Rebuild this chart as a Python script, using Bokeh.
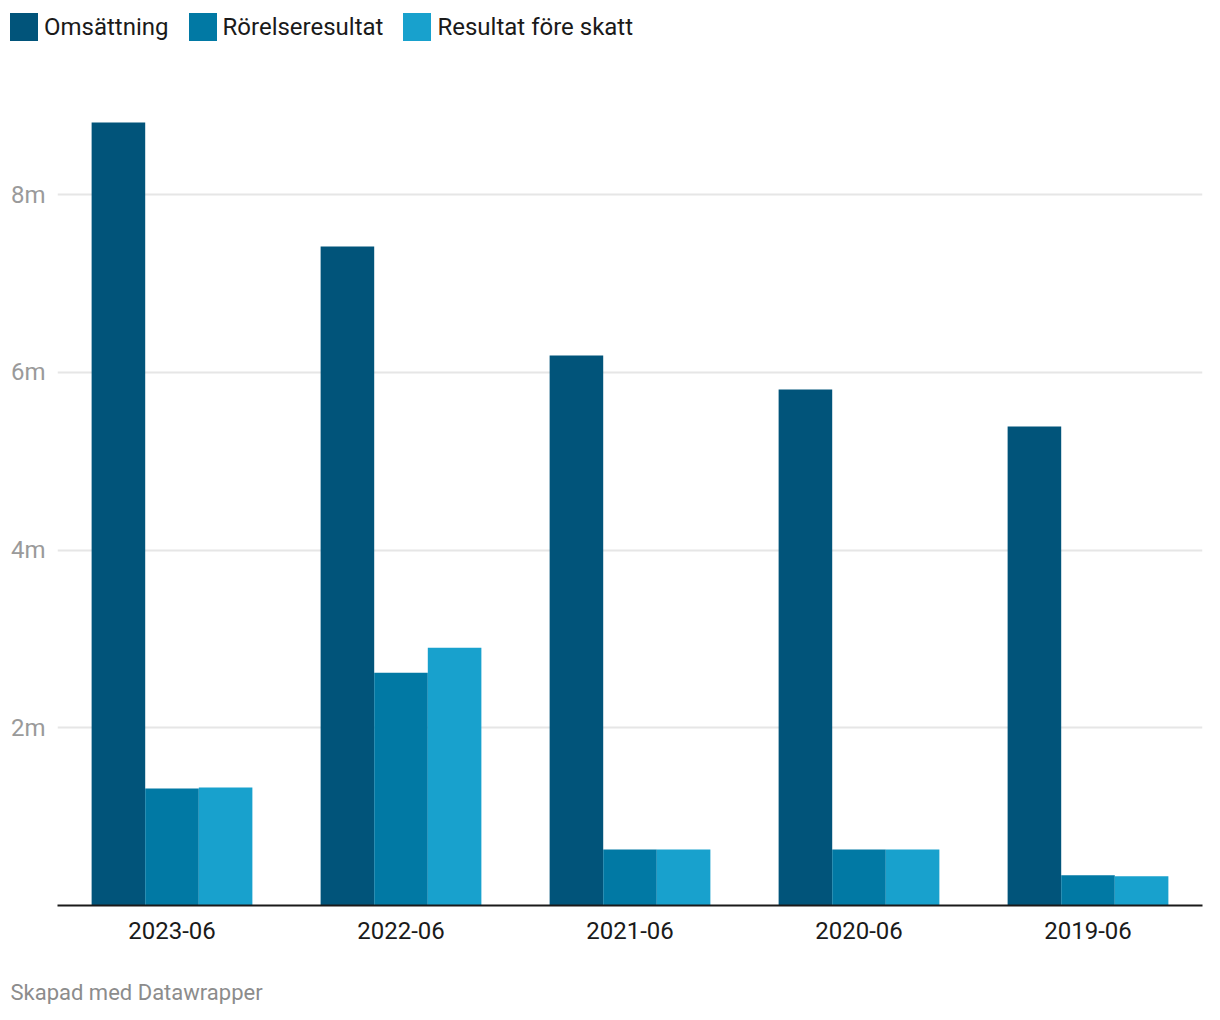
from bokeh.plotting import figure
from bokeh.models import (FactorRange, Range1d, FixedTicker, CustomJSTickFormatter,
                          Legend, LegendItem, Label, ColumnDataSource)
from bokeh.layouts import column
from bokeh.transform import dodge
from bokeh.embed import file_html
from bokeh.resources import INLINE

years = ["2023-06", "2022-06", "2021-06", "2020-06", "2019-06"]
omsattning = [8810000, 7415000, 6190000, 5806000, 5390000]
rorelseresultat = [1316000, 2620000, 630000, 630000, 340000]
resultat_fore_skatt = [1328000, 2900000, 630000, 630000, 330000]
series_names = ["Omsättning", "Rörelseresultat", "Resultat före skatt"]
colors = ["#01547a", "#0179a4", "#18a1cd"]
y_ticks = [2000000, 4000000, 6000000, 8000000]
footer_text = "Skapad med Datawrapper"

FONT = "Roboto"
W = 1204


def blank_fig(h):
    f = figure(width=W, height=h, x_range=Range1d(0, 1), y_range=Range1d(0, 1),
               min_border_left=0, min_border_right=0, min_border_top=0, min_border_bottom=0,
               output_backend="svg", toolbar_location=None, frame_align=False)
    f.axis.visible = False
    f.grid.visible = False
    f.outline_line_color = None
    f.background_fill_color = "white"
    f.border_fill_color = "white"
    return f


# ---------- legend strip ----------
top = blank_fig(60)
dummy = []
for c in colors:
    # placeholder renderers outside the visible range, only used for legend swatches
    r = top.vbar(x=[-10], top=[-10], bottom=[-11], width=0.1, fill_color=c, line_color=None)
    dummy.append(r)
legend = Legend(items=[LegendItem(label=n, renderers=[r]) for n, r in zip(series_names, dummy)],
                orientation="horizontal", location=(6, 16),
                glyph_width=35, glyph_height=35, label_standoff=3, spacing=16,
                padding=0, margin=0, border_line_color=None, background_fill_alpha=0,
                label_text_font=FONT, label_text_font_size="24px", label_text_color="#1a1a1a",
                label_height=35)
top.add_layout(legend, "center")

# ---------- main chart ----------
src = ColumnDataSource(dict(year=years, oms=omsattning, ror=rorelseresultat, res=resultat_fore_skatt))

p = figure(x_range=FactorRange(factors=years, range_padding=0),
           y_range=Range1d(0, 9508000),
           width=W, height=900,
           min_border_left=57, min_border_right=2, min_border_top=0, min_border_bottom=55,
           output_backend="svg", toolbar_location=None, frame_align=False)

bw = 0.234
fields = ["oms", "ror", "res"]
offsets = [-bw, 0.0, bw]
for f, off, c in zip(fields, offsets, colors):
    p.vbar(x=dodge("year", off, range=p.x_range), top=f, width=bw, bottom=0,
           source=src, fill_color=c, line_color=None)

p.outline_line_color = None
p.background_fill_color = "white"
p.border_fill_color = "white"

p.xgrid.grid_line_color = None
p.ygrid.grid_line_color = "#e6e6e6"
p.ygrid.grid_line_width = 2
p.ygrid.ticker = FixedTicker(ticks=y_ticks)

p.yaxis.ticker = FixedTicker(ticks=y_ticks)
p.yaxis.formatter = CustomJSTickFormatter(code="return (tick/1000000) + 'm';")
p.yaxis.axis_line_color = None
p.yaxis.major_tick_line_color = None
p.yaxis.minor_tick_line_color = None
p.yaxis.major_label_text_font = FONT
p.yaxis.major_label_text_font_size = "24px"
p.yaxis.major_label_text_color = "#9a9a9a"
p.yaxis.major_label_standoff = 6

p.xaxis.axis_line_color = "#1a1a1a"
p.xaxis.axis_line_width = 2
p.xaxis.major_tick_line_color = None
p.xaxis.minor_tick_line_color = None
p.xaxis.major_label_text_font = FONT
p.xaxis.major_label_text_font_size = "24px"
p.xaxis.major_label_text_color = "#1a1a1a"
p.xaxis.major_label_standoff = 10

# ---------- footer strip ----------
bottom = blank_fig(44)
bottom.add_layout(Label(x=10, y=12, x_units="screen", y_units="screen", text=footer_text,
                        text_font=FONT, text_font_size="22px", text_color="#8c8c8c",
                        text_baseline="alphabetic", text_align="left"))

layout = column(top, p, bottom, spacing=0)
open("out.html", "w").write(file_html(layout, INLINE))
